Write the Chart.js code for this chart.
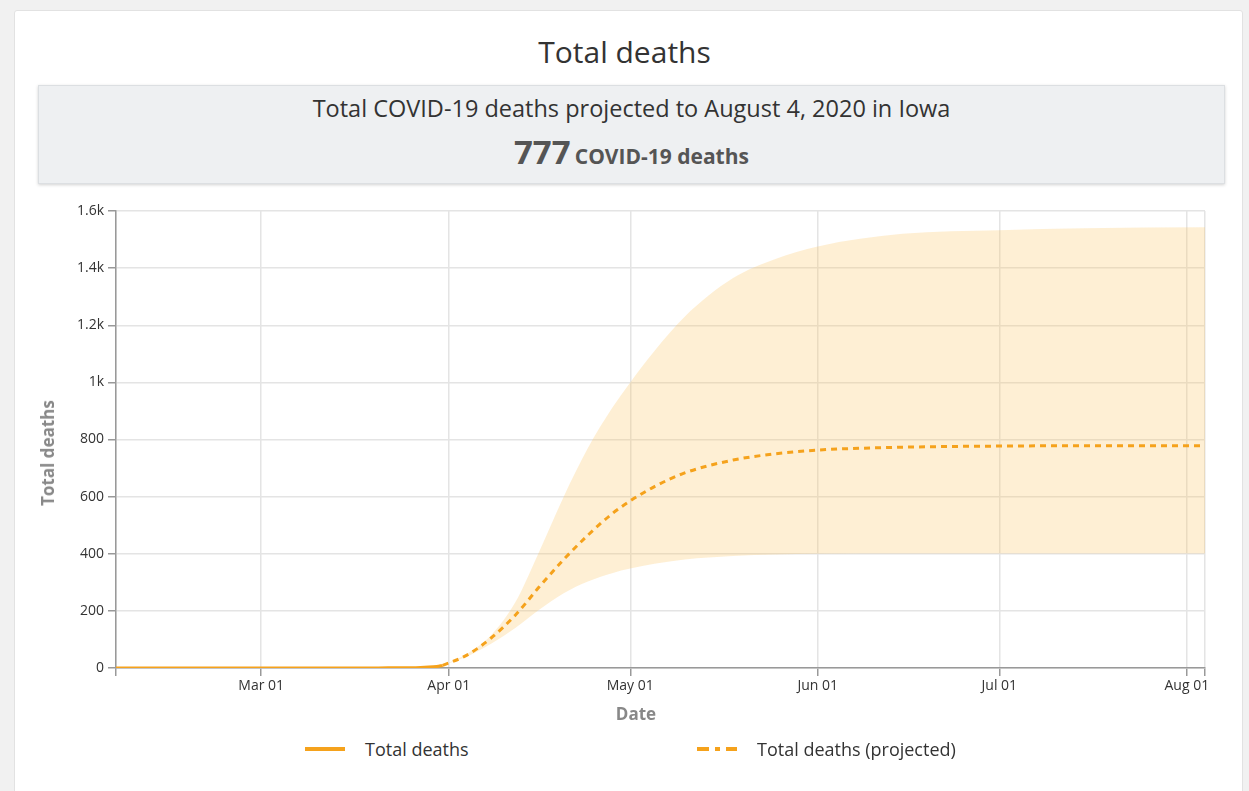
<!DOCTYPE html>
<html>
<head>
<meta charset="utf-8">
<title>Total deaths</title>
<script src="https://cdn.jsdelivr.net/npm/chart.js@4.4.0/dist/chart.umd.min.js"></script>
<style>
  body { margin: 0; width: 1249px; height: 791px; overflow: hidden; position: relative;
         background: #f1f1f1; font-family: "Open Sans", Lato, sans-serif; color: #333; }
  .card { position: absolute; left: 14px; top: 10px; width: 1227px; height: 800px;
          background: #fff; border: 1px solid #e2e2e2; border-radius: 3px; }
  .title { position: absolute; left: 0; right: 0; top: 32px; text-align: center;
           font-size: 30px; line-height: 40px; color: #333; }
  .summary { position: absolute; left: 38px; top: 85px; width: 1187px; height: 99px;
             background: #eef0f2; border: 1px solid #dcdfe2; box-sizing: border-box;
             box-shadow: 0 1px 3px rgba(0,0,0,0.18); text-align: center; }
  .summary .line1 { position: absolute; left: 0; right: 0; top: 7px; font-size: 23.5px; line-height: 30px; color: #333; }
  .summary .line2 { position: absolute; left: 0; right: 0; top: 45px; line-height: 42px; color: #555; font-weight: 700; }
  .summary .big { font-size: 33px; }
  .summary .small { font-size: 21px; }
  .wrap { position: absolute; left: 30px; top: 195px; width: 1190px; height: 535px; }
  .axis-title { position: absolute; color: #888; font-weight: 700; font-size: 17px; line-height: 22px; white-space: nowrap; }
  .y-title { left: 48px; top: 453px; transform: translate(-50%, -50%) rotate(-90deg); }
  .x-title { left: 636px; top: 714px; transform: translate(-50%, -50%); }
  .legend { position: absolute; top: 737px; font-size: 18px; line-height: 24px; color: #333; }
  .legend svg { position: absolute; top: 10px; }
</style>
</head>
<body>
<div class="card"></div>
<div class="title">Total deaths</div>
<div class="summary">
  <div class="line1">Total COVID-19 deaths projected to August 4, 2020 in Iowa</div>
  <div class="line2"><span class="big">777</span> <span class="small">COVID-19 deaths</span></div>
</div>
<div class="wrap"><canvas id="graficoMuertes"></canvas></div>
<div class="axis-title y-title">Total deaths</div>
<div class="axis-title x-title">Date</div>
<div class="legend" style="left:305px">
  <svg width="40" height="4"><line x1="0" y1="2" x2="40" y2="2" stroke="#f5a21c" stroke-width="4"/></svg>
  <span style="position:absolute;left:60px;white-space:nowrap">Total deaths</span>
</div>
<div class="legend" style="left:697px">
  <svg width="40" height="4"><line x1="0" y1="2" x2="40" y2="2" stroke="#f5a21c" stroke-width="4" stroke-dasharray="12,6,5,6,11"/></svg>
  <span style="position:absolute;left:60px;white-space:nowrap">Total deaths (projected)</span>
</div>

<script>
// Datos
const fechasReales = ['2020-02-06', '2020-03-20', '2020-03-24', '2020-03-26', '2020-03-28', '2020-03-30', '2020-03-31'];
const muertesReales = [0, 0, 1, 1, 3, 5, 9];

const fechasProyeccion = ['2020-03-31', '2020-04-04', '2020-04-08', '2020-04-12', '2020-04-16', '2020-04-20',
  '2020-04-24', '2020-04-28', '2020-05-01', '2020-05-05', '2020-05-10', '2020-05-18', '2020-05-25',
  '2020-06-01', '2020-06-15', '2020-07-01', '2020-07-15', '2020-08-04'];
const muertesProyectadas = [9, 45, 105, 185, 285, 380, 465, 540, 585, 635, 683, 728, 750, 763, 773, 777, 778, 778];
const limiteSuperior = [9, 50, 115, 230, 410, 600, 770, 910, 1000, 1110, 1230, 1365, 1432, 1476, 1520, 1533, 1540, 1543];
const limiteInferior = [9, 40, 85, 140, 205, 262, 303, 332, 348, 365, 380, 392, 397, 400, 401, 401, 401, 401];

const ticksFechas = ['2020-02-06', '2020-03-01', '2020-04-01', '2020-05-01', '2020-06-01', '2020-07-01', '2020-08-01', '2020-08-04'];
const etiquetasFechas = ['', 'Mar 01', 'Apr 01', 'May 01', 'Jun 01', 'Jul 01', 'Aug 01', ''];
const ticksMuertes = [0, 200, 400, 600, 800, 1000, 1200, 1400, 1600];

const naranja = '#f5a21c';
const fuente = '"Open Sans", Lato, sans-serif';

// día del año 2020 (1 = 1 de enero)
function diaDelAnio(s) {
  return (Date.parse(s + 'T00:00:00Z') - Date.UTC(2020, 0, 1)) / 86400000 + 1;
}
function puntos(fechas, valores) {
  return fechas.map((f, i) => ({ x: diaDelAnio(f), y: valores[i] }));
}

const diasTicks = ticksFechas.map(diaDelAnio);

function inicializarGrafico(canvasId) {
  const canvas = document.getElementById(canvasId);
  if (!canvas) {
    console.error('No se encontró el canvas:', canvasId);
    return;
  }
  new Chart(canvas, {
    type: 'line',
    data: {
      datasets: [
        {
          label: 'Total deaths',
          data: puntos(fechasReales, muertesReales),
          borderColor: naranja,
          borderWidth: 3,
          pointRadius: 0,
          cubicInterpolationMode: 'monotone',
          fill: false
        },
        {
          label: 'Total deaths (projected)',
          data: puntos(fechasProyeccion, muertesProyectadas),
          borderColor: naranja,
          borderWidth: 3,
          borderDash: [6, 5],
          pointRadius: 0,
          cubicInterpolationMode: 'monotone',
          fill: false
        },
        {
          label: 'lower',
          data: puntos(fechasProyeccion, limiteInferior),
          borderWidth: 0,
          borderColor: 'rgba(0,0,0,0)',
          pointRadius: 0,
          cubicInterpolationMode: 'monotone',
          fill: false
        },
        {
          label: 'upper',
          data: puntos(fechasProyeccion, limiteSuperior),
          borderWidth: 0,
          borderColor: 'rgba(0,0,0,0)',
          backgroundColor: 'rgba(250, 196, 100, 0.28)',
          pointRadius: 0,
          cubicInterpolationMode: 'monotone',
          fill: 2
        }
      ]
    },
    options: {
      responsive: true,
      maintainAspectRatio: false,
      animation: false,
      layout: { padding: { top: 16, right: 15, left: 0, bottom: 0 } },
      plugins: {
        legend: { display: false },
        tooltip: { enabled: false }
      },
      scales: {
        x: {
          type: 'linear',
          min: diasTicks[0],
          max: diasTicks[diasTicks.length - 1],
          afterBuildTicks: (scale) => { scale.ticks = diasTicks.map(v => ({ value: v })); },
          afterFit: (scale) => { scale.height = 62; },
          grid: { color: '#e4e4e4', lineWidth: 1.5, tickColor: '#999', tickLength: 8 },
          border: { color: '#999', width: 1.5 },
          ticks: {
            autoSkip: false,
            maxRotation: 0,
            padding: 2,
            color: '#333',
            font: { family: fuente, size: 14 },
            callback: (v) => {
              const i = diasTicks.indexOf(v);
              return i >= 0 ? etiquetasFechas[i] : '';
            }
          },
          title: { display: false }
        },
        y: {
          min: 0,
          max: 1600,
          afterBuildTicks: (scale) => { scale.ticks = ticksMuertes.map(v => ({ value: v })); },
          afterFit: (scale) => { scale.width = 86; },
          grid: { color: '#e4e4e4', lineWidth: 1.5, tickColor: '#999', tickLength: 8 },
          border: { color: '#999', width: 1.5 },
          ticks: {
            padding: 4,
            color: '#333',
            font: { family: fuente, size: 14 },
            callback: (v) => v >= 1000 ? (v / 1000) + 'k' : v
          },
          title: { display: false }
        }
      }
    }
  });
}

inicializarGrafico('graficoMuertes');
</script>
</body>
</html>
